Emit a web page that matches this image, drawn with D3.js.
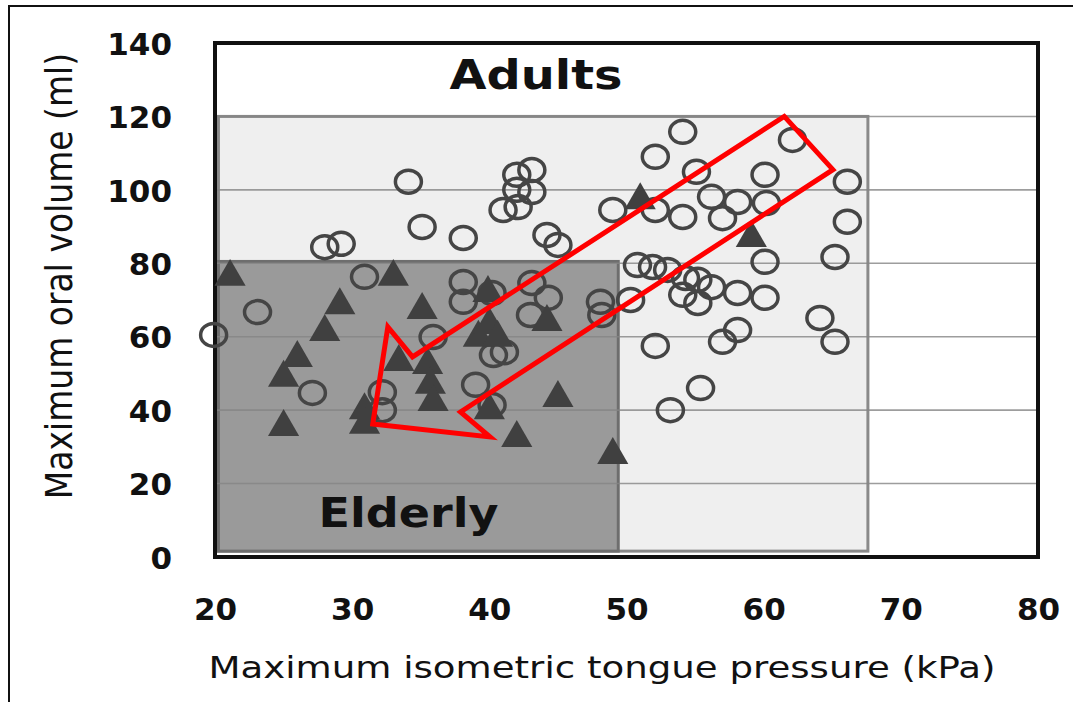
<!DOCTYPE html>
<html>
<head>
<meta charset="utf-8">
<script src="https://cdn.jsdelivr.net/npm/d3@7"></script>
<style>
body { margin: 0; background: #fff; }
text { font-family: "DejaVu Sans", Verdana, sans-serif; }
</style>
</head>
<body>
<div id="chart"></div>
<script>
// values: [tongue pressure kPa, oral volume ml]
const adults = [
  [19.9, 60.5], [23.1, 66.7], [27.1, 44.7], [28.0, 84.4], [29.2, 85.3], [30.9, 76.3],
  [32.2, 44.9], [32.2, 40.0], [34.1, 102.2], [35.1, 89.9], [35.9, 59.9], [38.1, 86.9],
  [38.1, 74.9], [38.1, 69.5], [40.2, 71.9], [39.0, 46.9], [40.2, 41.4], [40.3, 55.0],
  [41.1, 55.8], [41.0, 94.5], [42.1, 95.3], [42.0, 104.1], [43.1, 105.4], [42.0, 100.0],
  [43.1, 99.4], [44.2, 87.7], [45.0, 85.0], [43.1, 74.6], [44.3, 70.6], [43.0, 65.9],
  [48.1, 69.5], [48.2, 65.9], [50.3, 70.0], [49.0, 94.5], [52.1, 109.0], [54.1, 115.8],
  [55.1, 104.9], [52.1, 94.5], [54.1, 92.6], [56.2, 98.1], [58.1, 96.7], [60.2, 96.4],
  [57.0, 92.3], [62.1, 113.6], [60.1, 104.1], [66.1, 102.2], [66.1, 91.3], [65.2, 81.7],
  [60.1, 80.4], [50.8, 79.5], [51.9, 79.0], [53.0, 78.2], [54.3, 76.0], [55.2, 75.5],
  [54.1, 71.4], [55.2, 69.2], [56.2, 73.5], [58.1, 71.9], [60.1, 70.6], [64.1, 65.1],
  [65.2, 58.6], [58.1, 61.8], [57.0, 58.6], [55.4, 46.0], [53.2, 40.0], [52.1, 57.5]
];
const elderly = [
  [21.1, 76.3], [33.0, 76.3], [29.1, 68.6], [35.1, 67.3], [28.0, 61.3], [26.0, 54.2],
  [25.0, 48.8], [25.0, 35.4], [30.9, 40.0], [30.9, 36.0], [33.4, 53.1], [35.5, 52.3],
  [35.7, 46.9], [35.9, 42.2], [39.9, 71.9], [39.2, 59.7], [40.0, 63.2], [40.6, 59.7],
  [44.2, 64.0], [45.0, 43.3], [42.0, 32.4], [49.0, 27.8], [40.0, 40.0], [51.0, 97.2],
  [59.1, 86.9]
];
const xTicks = [20, 30, 40, 50, 60, 70, 80];
const yTicks = [0, 20, 40, 60, 80, 100, 120, 140];
const gridLines = [20, 40, 60, 80, 100, 120];
const xTitle = "Maximum isometric tongue pressure (kPa)";
const yTitle = "Maximum oral volume (ml)";
const groupLabels = ["Adults", "Elderly"];

var myApp = {};

myApp.w = 1073;
myApp.h = 702;
myApp.plot = {left: 215, right: 1038, top: 43, bottom: 557};

// shaded areas and the arrow, in data units
myApp.adultBox = {x0: 20.25, x1: 67.6, y0: 1.6, y1: 120};
myApp.elderBox = {x0: 20.25, x1: 49.4, y0: 1.6, y1: 80.5};
myApp.arrow = [[61.5, 120], [65.05, 105.5], [37.9, 39.5], [40.05, 32.7], [31.5, 36.2], [32.6, 62.7], [34.4, 54.5]];

myApp.appendSvg = function (div) {
    let svg = d3.select(div).append('svg')
        .attr('width', myApp.w)
        .attr('height', myApp.h);
    // frame of the cropped figure
    svg.append('rect')
        .attr('x', 9).attr('y', 6)
        .attr('width', myApp.w + 20).attr('height', myApp.h + 20)
        .attr('fill', 'none')
        .attr('stroke', '#111')
        .attr('stroke-width', 2);
    return svg;
}

myApp.createScales = function () {
    myApp.xScale = d3.scaleLinear().domain([20, 80]).range([myApp.plot.left, myApp.plot.right]);
    myApp.yScale = d3.scaleLinear().domain([0, 140]).range([myApp.plot.bottom, myApp.plot.top]);
}

myApp.drawBox = function (svg, b, fill, stroke) {
    let x = myApp.xScale, y = myApp.yScale;
    svg.append('rect')
        .attr('x', x(b.x0))
        .attr('y', y(b.y1))
        .attr('width', x(b.x1) - x(b.x0))
        .attr('height', y(b.y0) - y(b.y1))
        .attr('fill', fill)
        .attr('stroke', stroke)
        .attr('stroke-width', 3);
}

myApp.drawBackground = function (svg) {
    let p = myApp.plot;
    svg.append('rect')
        .attr('x', p.left).attr('y', p.top)
        .attr('width', p.right - p.left).attr('height', p.bottom - p.top)
        .attr('fill', '#fff');

    myApp.drawBox(svg, myApp.adultBox, '#efefef', '#8a8a8a');
    myApp.drawBox(svg, myApp.elderBox, '#9a9a9a', '#6e6e6e');

    // horizontal gridlines
    svg.append('g')
        .selectAll('line')
        .data(gridLines)
        .enter().append('line')
        .attr('x1', p.left).attr('x2', p.right)
        .attr('y1', d => myApp.yScale(d))
        .attr('y2', d => myApp.yScale(d))
        .attr('stroke', '#858585')
        .attr('stroke-opacity', 0.8)
        .attr('stroke-width', 1.6);

    svg.append('rect')
        .attr('x', p.left).attr('y', p.top)
        .attr('width', p.right - p.left).attr('height', p.bottom - p.top)
        .attr('fill', 'none')
        .attr('stroke', '#111')
        .attr('stroke-width', 4);
}

myApp.createAxes = function (svg) {
    let xAxis = d3.axisBottom(myApp.xScale).tickValues(xTicks).tickSize(0).tickPadding(40);
    let yAxis = d3.axisLeft(myApp.yScale).tickValues(yTicks).tickSize(0).tickPadding(43);

    let gx = svg.append('g')
        .attr('class', 'xAxis')
        .attr('transform', 'translate(0,' + myApp.plot.bottom + ')')
        .call(xAxis);
    let gy = svg.append('g')
        .attr('class', 'yAxis')
        .attr('transform', 'translate(' + myApp.plot.left + ',0)')
        .call(yAxis);

    [gx, gy].forEach(function (g) {
        g.select('.domain').remove();
        g.selectAll('text')
            .attr('font-family', '"DejaVu Sans", Verdana, sans-serif')
            .attr('font-size', 31)
            .attr('font-weight', 'bold')
            .attr('fill', '#111');
    });
    gx.selectAll('text').attr('dy', 0).attr('y', 63);
    gy.selectAll('text').attr('dy', '0.36em');

    svg.append('text')
        .attr('x', 602).attr('y', 678)
        .attr('text-anchor', 'middle')
        .attr('font-size', 30)
        .attr('textLength', 787)
        .attr('lengthAdjust', 'spacingAndGlyphs')
        .attr('fill', '#111')
        .text(xTitle);

    // y title: narrower letters than the x title, so squeeze it a little
    svg.append('text')
        .attr('transform', 'translate(72,276) rotate(-90) scale(1,1.12)')
        .attr('text-anchor', 'middle')
        .attr('font-size', 33)
        .attr('fill', '#111')
        .text(yTitle);
}

myApp.drawPoints = function (svg) {
    let x = myApp.xScale, y = myApp.yScale;

    svg.append('g')
        .attr('class', 'adults')
        .selectAll('ellipse')
        .data(adults)
        .enter().append('ellipse')
        .attr('cx', d => x(d[0]))
        .attr('cy', d => y(d[1]))
        .attr('rx', 13)
        .attr('ry', 11.5)
        .attr('fill', 'none')
        .attr('stroke', '#454545')
        .attr('stroke-width', 3.5);

    let tri = d3.symbol().type(d3.symbolTriangle).size(420);
    svg.append('g')
        .attr('class', 'elderly')
        .selectAll('path')
        .data(elderly)
        .enter().append('path')
        .attr('d', tri)
        .attr('transform', d => 'translate(' + x(d[0]) + ',' + y(d[1]) + ')')
        .attr('fill', '#404040');
}

myApp.drawNotes = function (svg) {
    let x = myApp.xScale, y = myApp.yScale;
    let line = d3.line().x(d => x(d[0])).y(d => y(d[1])).curve(d3.curveLinearClosed);

    svg.append('path')
        .attr('d', line(myApp.arrow))
        .attr('fill', 'none')
        .attr('stroke', '#ff0000')
        .attr('stroke-width', 5)
        .attr('stroke-linejoin', 'miter');

    // group labels
    svg.append('text')
        .attr('x', x(43.4)).attr('y', y(127.5))
        .attr('text-anchor', 'middle')
        .attr('font-size', 40)
        .attr('font-weight', 'bold')
        .attr('textLength', 173)
        .attr('lengthAdjust', 'spacingAndGlyphs')
        .attr('fill', '#111')
        .text(groupLabels[0]);

    svg.append('text')
        .attr('x', x(27.55)).attr('y', y(8.2))
        .attr('font-size', 41)
        .attr('font-weight', 'bold')
        .attr('textLength', 180)
        .attr('lengthAdjust', 'spacingAndGlyphs')
        .attr('fill', '#111')
        .text(groupLabels[1]);
}

myApp.run = function () {
    let svg = myApp.appendSvg('#chart');
    myApp.createScales();
    myApp.drawBackground(svg);
    myApp.createAxes(svg);
    myApp.drawPoints(svg);
    myApp.drawNotes(svg);
}

window.onload = myApp.run;
</script>
</body>
</html>
